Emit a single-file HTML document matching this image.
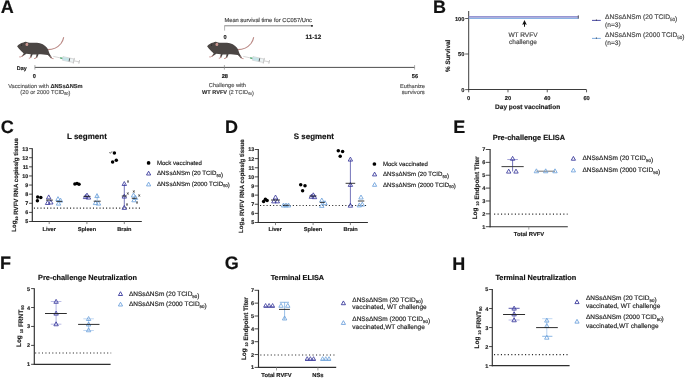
<!DOCTYPE html>
<html><head><meta charset="utf-8"><style>
html,body{margin:0;padding:0;background:#fff;width:685px;height:378px;overflow:hidden}
svg{display:block}
text{font-family:"Liberation Sans", sans-serif;stroke-width:0.16px;text-rendering:geometricPrecision}
</style></head><body>
<svg style="will-change:transform" width="685" height="378" viewBox="0 0 685 378" font-family='"Liberation Sans", sans-serif'>
<rect width="685" height="378" fill="#fff"/>
<text x="0.87" y="12.60" font-size="18" font-weight="bold" text-anchor="start" fill="#111" stroke="#111" stroke-width="0.07">A</text>
<g transform="translate(0.00,0.00)">
<path d="M47.6,49.6 C53,49.6 58,47.2 61,43.5 C62.4,41.6 63.2,39.6 63.6,37.6" fill="none" stroke="#bb8a86" stroke-width="1.15" stroke-linecap="round"/>
<path d="M17.1,46.3 C18.5,44.5 20.5,43 23.5,42.4 C24.5,41.6 26.5,41.5 28,42.4 C30,43.2 33,42.6 37,42.7 C41,42.9 45,45 47,47.8 C48.5,50 48.8,52 49.5,53.5 C50.3,55 51.2,56.5 52.2,57.9 L50.8,58.2 C49.8,56.8 48.8,55.6 47.8,54.9 C45,54.6 41.5,54.3 38.6,54.3 L37,58.1 L35.6,58.1 L36.6,54.4 C35,54.4 33.6,54.4 32.6,54.5 L31.2,57.8 L29.9,57.8 L30.8,54.3 C29.2,54.1 27.6,53.9 26.4,53.8 C25.2,54.6 23.9,55.6 22.6,56.5 L21.7,56 C22.7,55 23.4,54 23.6,53.2 C21.4,51.5 18.9,49 17.1,46.3 Z" fill="#4b4644"/>
<path d="M23.2,55.6 L20.6,56.9 L19.6,56.9 M30.9,56.6 L30.2,58.1 L29.2,58.2 M36.8,56.8 L35.6,58.5 L34.4,58.5 M50.4,56.6 L51.8,58.5 L53.2,58.6" fill="none" stroke="#c4908c" stroke-width="0.9" stroke-linecap="round" stroke-linejoin="round"/>
<ellipse cx="26.9" cy="44.4" rx="1.4" ry="1.7" fill="#c9968f"/>
<circle cx="21.6" cy="45.1" r="0.55" fill="#1a1a1a"/>
</g>
<g transform="translate(53.30,56.40) rotate(12)">
<line x1="0" y1="0" x2="7.2" y2="0" stroke="#aaa" stroke-width="0.45"/>
<rect x="7" y="-0.55" width="2.6" height="1.1" fill="#3aa060"/>
<rect x="9.5" y="-1.8" width="11.5" height="3.6" fill="#eef4f5" stroke="#b0b0b0" stroke-width="0.4"/>
<rect x="9.8" y="-1.5" width="6.2" height="3" fill="#c6e4e8"/>
<rect x="16" y="-1.6" width="0.9" height="3.2" fill="#555"/>
<line x1="21" y1="-2.9" x2="21" y2="2.9" stroke="#c0c0c0" stroke-width="0.8"/>
<rect x="21" y="-0.6" width="5.5" height="1.2" fill="#d6d6d6"/>
<line x1="26.5" y1="-1.9" x2="26.5" y2="1.9" stroke="#bdbdbd" stroke-width="0.8"/>
</g>
<g transform="translate(190.00,0.00)">
<path d="M47.6,49.6 C53,49.6 58,47.2 61,43.5 C62.4,41.6 63.2,39.6 63.6,37.6" fill="none" stroke="#bb8a86" stroke-width="1.15" stroke-linecap="round"/>
<path d="M17.1,46.3 C18.5,44.5 20.5,43 23.5,42.4 C24.5,41.6 26.5,41.5 28,42.4 C30,43.2 33,42.6 37,42.7 C41,42.9 45,45 47,47.8 C48.5,50 48.8,52 49.5,53.5 C50.3,55 51.2,56.5 52.2,57.9 L50.8,58.2 C49.8,56.8 48.8,55.6 47.8,54.9 C45,54.6 41.5,54.3 38.6,54.3 L37,58.1 L35.6,58.1 L36.6,54.4 C35,54.4 33.6,54.4 32.6,54.5 L31.2,57.8 L29.9,57.8 L30.8,54.3 C29.2,54.1 27.6,53.9 26.4,53.8 C25.2,54.6 23.9,55.6 22.6,56.5 L21.7,56 C22.7,55 23.4,54 23.6,53.2 C21.4,51.5 18.9,49 17.1,46.3 Z" fill="#4b4644"/>
<path d="M23.2,55.6 L20.6,56.9 L19.6,56.9 M30.9,56.6 L30.2,58.1 L29.2,58.2 M36.8,56.8 L35.6,58.5 L34.4,58.5 M50.4,56.6 L51.8,58.5 L53.2,58.6" fill="none" stroke="#c4908c" stroke-width="0.9" stroke-linecap="round" stroke-linejoin="round"/>
<ellipse cx="26.9" cy="44.4" rx="1.4" ry="1.7" fill="#c9968f"/>
<circle cx="21.6" cy="45.1" r="0.55" fill="#1a1a1a"/>
</g>
<g transform="translate(243.30,56.40) rotate(12)">
<line x1="0" y1="0" x2="7.2" y2="0" stroke="#aaa" stroke-width="0.45"/>
<rect x="7" y="-0.55" width="2.6" height="1.1" fill="#3aa060"/>
<rect x="9.5" y="-1.8" width="11.5" height="3.6" fill="#eef4f5" stroke="#b0b0b0" stroke-width="0.4"/>
<rect x="9.8" y="-1.5" width="6.2" height="3" fill="#c6e4e8"/>
<rect x="16" y="-1.6" width="0.9" height="3.2" fill="#555"/>
<line x1="21" y1="-2.9" x2="21" y2="2.9" stroke="#c0c0c0" stroke-width="0.8"/>
<rect x="21" y="-0.6" width="5.5" height="1.2" fill="#d6d6d6"/>
<line x1="26.5" y1="-1.9" x2="26.5" y2="1.9" stroke="#bdbdbd" stroke-width="0.8"/>
</g>
<text x="16.80" y="69.70" font-size="5.4" font-weight="bold" text-anchor="start" fill="#222" stroke="#222" stroke-width="0.07">Day</text>
<line x1="34.90" y1="67.40" x2="414.60" y2="67.40" stroke="#3a3a3a" stroke-width="0.9"/>
<line x1="34.90" y1="65.10" x2="34.90" y2="69.60" stroke="#888" stroke-width="0.7"/>
<line x1="224.40" y1="65.10" x2="224.40" y2="69.60" stroke="#888" stroke-width="0.7"/>
<line x1="414.60" y1="65.10" x2="414.60" y2="69.60" stroke="#888" stroke-width="0.7"/>
<text x="34.40" y="77.90" font-size="5.6" font-weight="bold" text-anchor="middle" fill="#222" stroke="#222" stroke-width="0.07">0</text>
<text x="224.80" y="77.90" font-size="5.7" font-weight="bold" text-anchor="middle" fill="#222" stroke="#222" stroke-width="0.07">28</text>
<text x="414.90" y="78.00" font-size="5.7" font-weight="bold" text-anchor="middle" fill="#222" stroke="#222" stroke-width="0.07">56</text>
<text x="45.4" y="87.5" font-size="5.7" text-anchor="middle" fill="#555" stroke="#555" stroke-width="0.16">Vaccination with <tspan font-weight="bold" fill="#222">ΔNSsΔNSm</tspan></text>
<text x="45.4" y="93.7" font-size="5.7" text-anchor="middle" fill="#555" stroke="#555" stroke-width="0.16">(20 or 2000 TCID<tspan font-size="3.88" dy="1.71">50</tspan><tspan dy="-1.71"></tspan>)</text>
<text x="227.4" y="87.4" font-size="5.67" text-anchor="middle" fill="#555" stroke="#555" stroke-width="0.16">Challenge with</text>
<text x="228" y="93.7" font-size="5.6" text-anchor="middle" fill="#555" stroke="#555" stroke-width="0.16"><tspan font-weight="bold" fill="#222">WT RVFV</tspan> (2 TCID<tspan font-size="3.54" dy="1.56">50</tspan><tspan dy="-1.56"></tspan>)</text>
<text x="412.5" y="87.6" font-size="5.6" text-anchor="middle" fill="#555" stroke="#555" stroke-width="0.16">Euthanize</text>
<text x="413.2" y="93.6" font-size="5.75" text-anchor="middle" fill="#555" stroke="#555" stroke-width="0.16">survivors</text>
<text x="224.4" y="22" font-size="5.76" fill="#444" stroke="#444" stroke-width="0.16">Mean survival time for CC057/Unc</text>
<line x1="224.60" y1="25.80" x2="311.50" y2="25.80" stroke="#777" stroke-width="0.9"/>
<line x1="224.60" y1="25.40" x2="224.60" y2="30.60" stroke="#999" stroke-width="0.75"/>
<rect x="311.1" y="25" width="1.7" height="1.7" fill="#222"/>
<text x="225.10" y="38.60" font-size="5.6" font-weight="bold" text-anchor="middle" fill="#222" stroke="#222" stroke-width="0.07">0</text>
<text x="313.40" y="38.90" font-size="6.3" font-weight="bold" text-anchor="middle" fill="#222" stroke="#222" stroke-width="0.07">11-12</text>
<text x="432.90" y="12.60" font-size="18" font-weight="bold" text-anchor="start" fill="#111" stroke="#111" stroke-width="0.07">B</text>
<line x1="468.70" y1="11.00" x2="468.70" y2="90.00" stroke="#333" stroke-width="0.95"/>
<line x1="468.20" y1="89.50" x2="586.40" y2="89.50" stroke="#333" stroke-width="0.95"/>
<line x1="465.20" y1="18.50" x2="468.70" y2="18.50" stroke="#333" stroke-width="0.8"/>
<text x="464.40" y="20.55" font-size="5.7" font-weight="bold" text-anchor="end" fill="#222" stroke="#222" stroke-width="0.07">100</text>
<line x1="465.20" y1="54.00" x2="468.70" y2="54.00" stroke="#333" stroke-width="0.8"/>
<text x="464.40" y="56.05" font-size="5.7" font-weight="bold" text-anchor="end" fill="#222" stroke="#222" stroke-width="0.07">50</text>
<line x1="465.20" y1="89.60" x2="468.70" y2="89.60" stroke="#333" stroke-width="0.8"/>
<text x="464.40" y="91.65" font-size="5.7" font-weight="bold" text-anchor="end" fill="#222" stroke="#222" stroke-width="0.07">0</text>
<line x1="468.70" y1="89.50" x2="468.70" y2="92.30" stroke="#333" stroke-width="0.8"/>
<text x="468.70" y="99.60" font-size="5.7" font-weight="bold" text-anchor="middle" fill="#222" stroke="#222" stroke-width="0.07">0</text>
<line x1="507.98" y1="89.50" x2="507.98" y2="92.30" stroke="#333" stroke-width="0.8"/>
<text x="507.98" y="99.60" font-size="5.7" font-weight="bold" text-anchor="middle" fill="#222" stroke="#222" stroke-width="0.07">20</text>
<line x1="547.26" y1="89.50" x2="547.26" y2="92.30" stroke="#333" stroke-width="0.8"/>
<text x="547.26" y="99.60" font-size="5.7" font-weight="bold" text-anchor="middle" fill="#222" stroke="#222" stroke-width="0.07">40</text>
<line x1="586.54" y1="89.50" x2="586.54" y2="92.30" stroke="#333" stroke-width="0.8"/>
<text x="586.54" y="99.60" font-size="5.7" font-weight="bold" text-anchor="middle" fill="#222" stroke="#222" stroke-width="0.07">60</text>
<text x="527.60" y="109.10" font-size="6.5" font-weight="bold" text-anchor="middle" fill="#222" stroke="#222" stroke-width="0.07">Day post vaccination</text>
<text x="0" y="0" font-size="6.4" font-weight="bold" text-anchor="middle" fill="#222" stroke="#222" stroke-width="0.07" transform="translate(450.40,55.90) rotate(-90)">% Survival</text>
<line x1="468.70" y1="16.90" x2="578.60" y2="16.90" stroke="#9696d2" stroke-width="1.6"/>
<line x1="468.70" y1="18.50" x2="578.60" y2="18.50" stroke="#8bb2e4" stroke-width="1.2"/>
<line x1="578.30" y1="15.30" x2="578.30" y2="18.60" stroke="#333" stroke-width="0.75"/>
<path d="M524.5,20.1 L526.8,24.8 L525,24.3 L525,26.7 L524,26.7 L524,24.3 L522.2,24.8 Z" fill="#111"/>
<text x="523.00" y="37.30" font-size="6.55" text-anchor="middle" fill="#444" stroke="#444" stroke-width="0.16">WT RVFV</text>
<text x="523.00" y="43.70" font-size="6.5" text-anchor="middle" fill="#444" stroke="#444" stroke-width="0.16">challenge</text>
<line x1="592.00" y1="20.40" x2="600.80" y2="20.40" stroke="#3a3a9c" stroke-width="0.9"/>
<line x1="596.40" y1="19.30" x2="596.40" y2="20.90" stroke="#222" stroke-width="0.6"/>
<line x1="592.00" y1="38.40" x2="600.80" y2="38.40" stroke="#6fa3dc" stroke-width="0.9"/>
<line x1="596.40" y1="37.30" x2="596.40" y2="38.90" stroke="#222" stroke-width="0.6"/>
<text x="605.1" y="19.3" font-size="6.65" fill="#444" stroke="#444" stroke-width="0.16">ΔNSsΔNSm (20 TCID<tspan font-size="4.52" dy="2.00">50</tspan><tspan dy="-2.00"></tspan>)</text>
<text x="605.10" y="27.40" font-size="6.6" text-anchor="start" fill="#444" stroke="#444" stroke-width="0.16">(n=3)</text>
<text x="605.1" y="37" font-size="6.65" fill="#444" stroke="#444" stroke-width="0.16">ΔNSsΔNSm (2000 TCID<tspan font-size="4.52" dy="2.00">50</tspan><tspan dy="-2.00"></tspan>)</text>
<text x="605.10" y="44.90" font-size="6.6" text-anchor="start" fill="#444" stroke="#444" stroke-width="0.16">(n=3)</text>
<text x="0.76" y="132.50" font-size="18" font-weight="bold" text-anchor="start" fill="#111" stroke="#111" stroke-width="0.07">C</text>
<text x="86.90" y="139.00" font-size="8" font-weight="bold" text-anchor="middle" fill="#111" stroke="#111" stroke-width="0.07">L segment</text>
<line x1="32.30" y1="148.20" x2="32.30" y2="222.05" stroke="#2e2e2e" stroke-width="1.15"/>
<line x1="31.75" y1="221.50" x2="141.80" y2="221.50" stroke="#2e2e2e" stroke-width="1.15"/>
<line x1="29.10" y1="221.50" x2="32.30" y2="221.50" stroke="#333" stroke-width="0.9"/>
<text x="28.35" y="223.44" font-size="5.4" font-weight="bold" text-anchor="end" fill="#222" stroke="#222" stroke-width="0.07">5</text>
<line x1="29.10" y1="212.39" x2="32.30" y2="212.39" stroke="#333" stroke-width="0.9"/>
<text x="28.35" y="214.33" font-size="5.4" font-weight="bold" text-anchor="end" fill="#222" stroke="#222" stroke-width="0.07">6</text>
<line x1="29.10" y1="203.28" x2="32.30" y2="203.28" stroke="#333" stroke-width="0.9"/>
<text x="28.35" y="205.22" font-size="5.4" font-weight="bold" text-anchor="end" fill="#222" stroke="#222" stroke-width="0.07">7</text>
<line x1="29.10" y1="194.16" x2="32.30" y2="194.16" stroke="#333" stroke-width="0.9"/>
<text x="28.35" y="196.11" font-size="5.4" font-weight="bold" text-anchor="end" fill="#222" stroke="#222" stroke-width="0.07">8</text>
<line x1="29.10" y1="185.05" x2="32.30" y2="185.05" stroke="#333" stroke-width="0.9"/>
<text x="28.35" y="186.99" font-size="5.4" font-weight="bold" text-anchor="end" fill="#222" stroke="#222" stroke-width="0.07">9</text>
<line x1="29.10" y1="175.94" x2="32.30" y2="175.94" stroke="#333" stroke-width="0.9"/>
<text x="28.35" y="177.88" font-size="5.4" font-weight="bold" text-anchor="end" fill="#222" stroke="#222" stroke-width="0.07">10</text>
<line x1="29.10" y1="166.82" x2="32.30" y2="166.82" stroke="#333" stroke-width="0.9"/>
<text x="28.35" y="168.77" font-size="5.4" font-weight="bold" text-anchor="end" fill="#222" stroke="#222" stroke-width="0.07">11</text>
<line x1="29.10" y1="157.71" x2="32.30" y2="157.71" stroke="#333" stroke-width="0.9"/>
<text x="28.35" y="159.66" font-size="5.4" font-weight="bold" text-anchor="end" fill="#222" stroke="#222" stroke-width="0.07">12</text>
<line x1="29.10" y1="148.60" x2="32.30" y2="148.60" stroke="#333" stroke-width="0.9"/>
<text x="28.35" y="150.54" font-size="5.4" font-weight="bold" text-anchor="end" fill="#222" stroke="#222" stroke-width="0.07">13</text>
<line x1="49.20" y1="221.50" x2="49.20" y2="224.10" stroke="#666" stroke-width="0.8"/>
<line x1="86.90" y1="221.50" x2="86.90" y2="224.10" stroke="#666" stroke-width="0.8"/>
<line x1="124.30" y1="221.50" x2="124.30" y2="224.10" stroke="#666" stroke-width="0.8"/>
<text x="49.20" y="230.70" font-size="5.6" font-weight="bold" text-anchor="middle" fill="#222" stroke="#222" stroke-width="0.07">Liver</text>
<text x="86.90" y="230.70" font-size="5.6" font-weight="bold" text-anchor="middle" fill="#222" stroke="#222" stroke-width="0.07">Spleen</text>
<text x="124.40" y="230.70" font-size="5.6" font-weight="bold" text-anchor="middle" fill="#222" stroke="#222" stroke-width="0.07">Brain</text>
<line x1="33.90" y1="208.10" x2="141.00" y2="208.10" stroke="#2a2a2a" stroke-width="1.2" stroke-dasharray="1.1 2.18"/>
<text x="0" y="0" font-size="6.1" font-weight="bold" text-anchor="middle" fill="#1a1a1a" stroke="#1a1a1a" stroke-width="0.07" transform="translate(16.10,185.00) rotate(-90)">Log<tspan font-size="3.78" dy="1.52">10</tspan><tspan dy="-1.52"></tspan> RVFV RNA copies/g tissue</text>
<circle cx="37.70" cy="196.90" r="1.75" fill="#000"/>
<circle cx="40.80" cy="197.60" r="1.75" fill="#000"/>
<circle cx="37.40" cy="200.80" r="1.75" fill="#000"/>
<circle cx="74.90" cy="184.00" r="1.75" fill="#000"/>
<circle cx="77.00" cy="183.40" r="1.75" fill="#000"/>
<circle cx="79.00" cy="184.20" r="1.75" fill="#000"/>
<circle cx="114.40" cy="153.00" r="1.75" fill="#000"/>
<circle cx="112.60" cy="162.00" r="1.75" fill="#000"/>
<circle cx="116.30" cy="160.20" r="1.75" fill="#000"/>
<path d="M109.4,152.4 l0.9,0.9 l1.7,-1.9" fill="none" stroke="#111" stroke-width="0.7"/>
<path d="M48.70,194.92 L50.90,198.88 L46.50,198.88Z" fill="none" stroke="#3a3a9c" stroke-width="0.85"/>
<path d="M47.60,200.52 L49.80,204.48 L45.40,204.48Z" fill="none" stroke="#3a3a9c" stroke-width="0.85"/>
<path d="M50.80,200.02 L53.00,203.98 L48.60,203.98Z" fill="none" stroke="#3a3a9c" stroke-width="0.85"/>
<path d="M85.50,194.62 L87.70,198.58 L83.30,198.58Z" fill="none" stroke="#3a3a9c" stroke-width="0.85"/>
<path d="M87.00,193.12 L89.20,197.08 L84.80,197.08Z" fill="none" stroke="#3a3a9c" stroke-width="0.85"/>
<path d="M88.50,195.12 L90.70,199.08 L86.30,199.08Z" fill="none" stroke="#3a3a9c" stroke-width="0.85"/>
<line x1="46.00" y1="200.10" x2="52.80" y2="200.10" stroke="#222" stroke-width="0.9"/>
<line x1="83.50" y1="196.40" x2="90.50" y2="196.40" stroke="#222" stroke-width="0.9"/>
<line x1="124.30" y1="183.90" x2="124.30" y2="207.80" stroke="#3a3a9c" stroke-width="0.7"/>
<path d="M124.30,181.52 L126.50,185.48 L122.10,185.48Z" fill="none" stroke="#3a3a9c" stroke-width="0.85"/>
<path d="M124.30,194.12 L126.50,198.08 L122.10,198.08Z" fill="none" stroke="#3a3a9c" stroke-width="0.85"/>
<path d="M124.30,205.42 L126.50,209.38 L122.10,209.38Z" fill="none" stroke="#3a3a9c" stroke-width="0.85"/>
<line x1="121.80" y1="196.00" x2="126.80" y2="196.00" stroke="#222" stroke-width="0.9"/>
<text x="128.10" y="183.30" font-size="4.3" text-anchor="middle" fill="#222" stroke="#222" stroke-width="0.16">×</text>
<text x="127.80" y="195.30" font-size="4.3" text-anchor="middle" fill="#222" stroke="#222" stroke-width="0.16">×</text>
<text x="127.00" y="206.20" font-size="4.3" text-anchor="middle" fill="#222" stroke="#222" stroke-width="0.16">×</text>
<text x="133.70" y="192.60" font-size="4.3" text-anchor="middle" fill="#222" stroke="#222" stroke-width="0.16">×</text>
<text x="139.30" y="197.30" font-size="4.3" text-anchor="middle" fill="#222" stroke="#222" stroke-width="0.16">×</text>
<text x="137.00" y="204.10" font-size="4.3" text-anchor="middle" fill="#222" stroke="#222" stroke-width="0.16">×</text>
<path d="M58.00,196.62 L60.20,200.58 L55.80,200.58Z" fill="none" stroke="#6fa3dc" stroke-width="0.85"/>
<path d="M60.50,198.12 L62.70,202.08 L58.30,202.08Z" fill="none" stroke="#6fa3dc" stroke-width="0.85"/>
<path d="M58.50,201.12 L60.70,205.08 L56.30,205.08Z" fill="none" stroke="#6fa3dc" stroke-width="0.85"/>
<path d="M97.00,193.62 L99.20,197.58 L94.80,197.58Z" fill="none" stroke="#6fa3dc" stroke-width="0.85"/>
<path d="M95.50,200.62 L97.70,204.58 L93.30,204.58Z" fill="none" stroke="#6fa3dc" stroke-width="0.85"/>
<path d="M98.50,201.12 L100.70,205.08 L96.30,205.08Z" fill="none" stroke="#6fa3dc" stroke-width="0.85"/>
<path d="M133.50,193.02 L135.70,196.98 L131.30,196.98Z" fill="none" stroke="#6fa3dc" stroke-width="0.85"/>
<path d="M135.50,195.42 L137.70,199.38 L133.30,199.38Z" fill="none" stroke="#6fa3dc" stroke-width="0.85"/>
<path d="M134.00,197.82 L136.20,201.78 L131.80,201.78Z" fill="none" stroke="#6fa3dc" stroke-width="0.85"/>
<line x1="56.20" y1="201.40" x2="62.20" y2="201.40" stroke="#222" stroke-width="0.9"/>
<line x1="93.70" y1="201.20" x2="100.70" y2="201.20" stroke="#222" stroke-width="0.9"/>
<line x1="97.20" y1="195.00" x2="97.20" y2="201.20" stroke="#6fa3dc" stroke-width="0.6"/>
<line x1="131.80" y1="198.30" x2="136.80" y2="198.30" stroke="#222" stroke-width="0.9"/>
<circle cx="148.60" cy="162.90" r="1.85" fill="#000"/>
<text x="156.90" y="164.70" font-size="6.05" text-anchor="start" fill="#222" stroke="#222" stroke-width="0.16">Mock vaccinated</text>
<path d="M148.60,171.23 L150.70,175.01 L146.50,175.01Z" fill="none" stroke="#3a3a9c" stroke-width="0.9"/>
<text x="156.9" y="174.9" font-size="6.1" fill="#222" stroke="#222" stroke-width="0.16">ΔNSsΔNSm (20 TCID<tspan font-size="4.15" dy="1.83">50</tspan><tspan dy="-1.83"></tspan>)</text>
<path d="M148.60,182.13 L150.70,185.91 L146.50,185.91Z" fill="none" stroke="#6fa3dc" stroke-width="0.9"/>
<text x="156.9" y="185.6" font-size="6.1" fill="#222" stroke="#222" stroke-width="0.16">ΔNSsΔNSm (2000 TCID<tspan font-size="4.15" dy="1.83">50</tspan><tspan dy="-1.83"></tspan>)</text>
<text x="225.00" y="132.50" font-size="18" font-weight="bold" text-anchor="start" fill="#111" stroke="#111" stroke-width="0.07">D</text>
<text x="313.90" y="139.40" font-size="7.95" font-weight="bold" text-anchor="middle" fill="#111" stroke="#111" stroke-width="0.07">S segment</text>
<line x1="258.30" y1="149.10" x2="258.30" y2="223.05" stroke="#2e2e2e" stroke-width="1.15"/>
<line x1="257.75" y1="222.50" x2="367.90" y2="222.50" stroke="#2e2e2e" stroke-width="1.15"/>
<line x1="254.80" y1="222.50" x2="258.30" y2="222.50" stroke="#333" stroke-width="0.9"/>
<text x="254.15" y="224.44" font-size="5.4" font-weight="bold" text-anchor="end" fill="#222" stroke="#222" stroke-width="0.07">5</text>
<line x1="254.80" y1="213.38" x2="258.30" y2="213.38" stroke="#333" stroke-width="0.9"/>
<text x="254.15" y="215.32" font-size="5.4" font-weight="bold" text-anchor="end" fill="#222" stroke="#222" stroke-width="0.07">6</text>
<line x1="254.80" y1="204.25" x2="258.30" y2="204.25" stroke="#333" stroke-width="0.9"/>
<text x="254.15" y="206.19" font-size="5.4" font-weight="bold" text-anchor="end" fill="#222" stroke="#222" stroke-width="0.07">7</text>
<line x1="254.80" y1="195.12" x2="258.30" y2="195.12" stroke="#333" stroke-width="0.9"/>
<text x="254.15" y="197.07" font-size="5.4" font-weight="bold" text-anchor="end" fill="#222" stroke="#222" stroke-width="0.07">8</text>
<line x1="254.80" y1="186.00" x2="258.30" y2="186.00" stroke="#333" stroke-width="0.9"/>
<text x="254.15" y="187.94" font-size="5.4" font-weight="bold" text-anchor="end" fill="#222" stroke="#222" stroke-width="0.07">9</text>
<line x1="254.80" y1="176.88" x2="258.30" y2="176.88" stroke="#333" stroke-width="0.9"/>
<text x="254.15" y="178.82" font-size="5.4" font-weight="bold" text-anchor="end" fill="#222" stroke="#222" stroke-width="0.07">10</text>
<line x1="254.80" y1="167.75" x2="258.30" y2="167.75" stroke="#333" stroke-width="0.9"/>
<text x="254.15" y="169.69" font-size="5.4" font-weight="bold" text-anchor="end" fill="#222" stroke="#222" stroke-width="0.07">11</text>
<line x1="254.80" y1="158.62" x2="258.30" y2="158.62" stroke="#333" stroke-width="0.9"/>
<text x="254.15" y="160.57" font-size="5.4" font-weight="bold" text-anchor="end" fill="#222" stroke="#222" stroke-width="0.07">12</text>
<line x1="254.80" y1="149.50" x2="258.30" y2="149.50" stroke="#333" stroke-width="0.9"/>
<text x="254.15" y="151.44" font-size="5.4" font-weight="bold" text-anchor="end" fill="#222" stroke="#222" stroke-width="0.07">13</text>
<line x1="275.50" y1="222.50" x2="275.50" y2="225.10" stroke="#666" stroke-width="0.8"/>
<line x1="313.10" y1="222.50" x2="313.10" y2="225.10" stroke="#666" stroke-width="0.8"/>
<line x1="350.40" y1="222.50" x2="350.40" y2="225.10" stroke="#666" stroke-width="0.8"/>
<text x="275.20" y="231.30" font-size="5.6" font-weight="bold" text-anchor="middle" fill="#222" stroke="#222" stroke-width="0.07">Liver</text>
<text x="313.00" y="231.30" font-size="5.6" font-weight="bold" text-anchor="middle" fill="#222" stroke="#222" stroke-width="0.07">Spleen</text>
<text x="350.60" y="231.30" font-size="5.6" font-weight="bold" text-anchor="middle" fill="#222" stroke="#222" stroke-width="0.07">Brain</text>
<line x1="260.00" y1="205.50" x2="367.60" y2="205.50" stroke="#2a2a2a" stroke-width="1.2" stroke-dasharray="1.1 2.18"/>
<text x="0" y="0" font-size="6.1" font-weight="bold" text-anchor="middle" fill="#1a1a1a" stroke="#1a1a1a" stroke-width="0.07" transform="translate(242.60,186.20) rotate(-90)">Log<tspan font-size="3.78" dy="1.52">10</tspan><tspan dy="-1.52"></tspan> RVFV RNA copies/g tissue</text>
<circle cx="263.60" cy="201.50" r="1.75" fill="#000"/>
<circle cx="265.40" cy="199.20" r="1.75" fill="#000"/>
<circle cx="267.10" cy="200.40" r="1.75" fill="#000"/>
<circle cx="300.70" cy="184.80" r="1.75" fill="#000"/>
<circle cx="305.00" cy="185.70" r="1.75" fill="#000"/>
<circle cx="302.60" cy="190.70" r="1.75" fill="#000"/>
<circle cx="338.30" cy="150.70" r="1.75" fill="#000"/>
<circle cx="342.60" cy="151.40" r="1.75" fill="#000"/>
<circle cx="340.20" cy="156.20" r="1.75" fill="#000"/>
<path d="M275.50,195.02 L277.70,198.98 L273.30,198.98Z" fill="none" stroke="#3a3a9c" stroke-width="0.85"/>
<path d="M273.90,198.92 L276.10,202.88 L271.70,202.88Z" fill="none" stroke="#3a3a9c" stroke-width="0.85"/>
<path d="M277.30,198.92 L279.50,202.88 L275.10,202.88Z" fill="none" stroke="#3a3a9c" stroke-width="0.85"/>
<path d="M311.40,194.32 L313.60,198.28 L309.20,198.28Z" fill="none" stroke="#3a3a9c" stroke-width="0.85"/>
<path d="M313.30,192.82 L315.50,196.78 L311.10,196.78Z" fill="none" stroke="#3a3a9c" stroke-width="0.85"/>
<path d="M314.50,194.72 L316.70,198.68 L312.30,198.68Z" fill="none" stroke="#3a3a9c" stroke-width="0.85"/>
<path d="M350.40,157.12 L352.60,161.08 L348.20,161.08Z" fill="none" stroke="#3a3a9c" stroke-width="0.85"/>
<path d="M350.40,182.42 L352.60,186.38 L348.20,186.38Z" fill="none" stroke="#3a3a9c" stroke-width="0.85"/>
<path d="M350.40,203.22 L352.60,207.18 L348.20,207.18Z" fill="none" stroke="#3a3a9c" stroke-width="0.85"/>
<line x1="271.00" y1="200.00" x2="280.00" y2="200.00" stroke="#222" stroke-width="0.9"/>
<line x1="309.50" y1="196.00" x2="316.50" y2="196.00" stroke="#222" stroke-width="0.9"/>
<line x1="350.40" y1="159.50" x2="350.40" y2="205.30" stroke="#3a3a9c" stroke-width="0.7"/>
<line x1="345.60" y1="183.30" x2="355.20" y2="183.30" stroke="#222" stroke-width="0.9"/>
<path d="M283.50,203.02 L285.70,206.98 L281.30,206.98Z" fill="none" stroke="#6fa3dc" stroke-width="0.85"/>
<path d="M286.00,203.02 L288.20,206.98 L283.80,206.98Z" fill="none" stroke="#6fa3dc" stroke-width="0.85"/>
<path d="M288.50,203.02 L290.70,206.98 L286.30,206.98Z" fill="none" stroke="#6fa3dc" stroke-width="0.85"/>
<path d="M321.80,198.02 L324.00,201.98 L319.60,201.98Z" fill="none" stroke="#6fa3dc" stroke-width="0.85"/>
<path d="M325.00,200.72 L327.20,204.68 L322.80,204.68Z" fill="none" stroke="#6fa3dc" stroke-width="0.85"/>
<path d="M321.80,203.42 L324.00,207.38 L319.60,207.38Z" fill="none" stroke="#6fa3dc" stroke-width="0.85"/>
<path d="M361.00,195.02 L363.20,198.98 L358.80,198.98Z" fill="none" stroke="#6fa3dc" stroke-width="0.85"/>
<path d="M359.30,202.92 L361.50,206.88 L357.10,206.88Z" fill="none" stroke="#6fa3dc" stroke-width="0.85"/>
<path d="M362.30,202.12 L364.50,206.08 L360.10,206.08Z" fill="none" stroke="#6fa3dc" stroke-width="0.85"/>
<line x1="283.00" y1="205.30" x2="289.00" y2="205.30" stroke="#222" stroke-width="0.9"/>
<line x1="319.80" y1="202.40" x2="324.80" y2="202.40" stroke="#222" stroke-width="0.9"/>
<line x1="357.90" y1="201.00" x2="364.30" y2="201.00" stroke="#222" stroke-width="0.9"/>
<circle cx="374.40" cy="164.00" r="1.85" fill="#000"/>
<text x="382.90" y="165.60" font-size="6.05" text-anchor="start" fill="#222" stroke="#222" stroke-width="0.16">Mock vaccinated</text>
<path d="M374.60,172.13 L376.70,175.91 L372.50,175.91Z" fill="none" stroke="#3a3a9c" stroke-width="0.9"/>
<text x="382.9" y="175.8" font-size="6.1" fill="#222" stroke="#222" stroke-width="0.16">ΔNSsΔNSm (20 TCID<tspan font-size="4.15" dy="1.83">50</tspan><tspan dy="-1.83"></tspan>)</text>
<path d="M374.60,182.53 L376.70,186.31 L372.50,186.31Z" fill="none" stroke="#6fa3dc" stroke-width="0.9"/>
<text x="382.9" y="186.5" font-size="6.1" fill="#222" stroke="#222" stroke-width="0.16">ΔNSsΔNSm (2000 TCID<tspan font-size="4.15" dy="1.83">50</tspan><tspan dy="-1.83"></tspan>)</text>
<text x="453.30" y="133.00" font-size="18" font-weight="bold" text-anchor="start" fill="#111" stroke="#111" stroke-width="0.07">E</text>
<text x="528.90" y="139.60" font-size="7.38" font-weight="bold" text-anchor="middle" fill="#111" stroke="#111" stroke-width="0.07">Pre-challenge ELISA</text>
<line x1="490.10" y1="149.10" x2="490.10" y2="227.25" stroke="#2e2e2e" stroke-width="1.15"/>
<line x1="489.55" y1="226.70" x2="567.80" y2="226.70" stroke="#2e2e2e" stroke-width="1.15"/>
<line x1="485.80" y1="226.70" x2="490.10" y2="226.70" stroke="#333" stroke-width="0.9"/>
<text x="485.25" y="228.68" font-size="5.5" font-weight="bold" text-anchor="end" fill="#222" stroke="#222" stroke-width="0.07">1</text>
<line x1="485.80" y1="213.83" x2="490.10" y2="213.83" stroke="#333" stroke-width="0.9"/>
<text x="485.25" y="215.81" font-size="5.5" font-weight="bold" text-anchor="end" fill="#222" stroke="#222" stroke-width="0.07">2</text>
<line x1="485.80" y1="200.97" x2="490.10" y2="200.97" stroke="#333" stroke-width="0.9"/>
<text x="485.25" y="202.95" font-size="5.5" font-weight="bold" text-anchor="end" fill="#222" stroke="#222" stroke-width="0.07">3</text>
<line x1="485.80" y1="188.10" x2="490.10" y2="188.10" stroke="#333" stroke-width="0.9"/>
<text x="485.25" y="190.08" font-size="5.5" font-weight="bold" text-anchor="end" fill="#222" stroke="#222" stroke-width="0.07">4</text>
<line x1="485.80" y1="175.23" x2="490.10" y2="175.23" stroke="#333" stroke-width="0.9"/>
<text x="485.25" y="177.21" font-size="5.5" font-weight="bold" text-anchor="end" fill="#222" stroke="#222" stroke-width="0.07">5</text>
<line x1="485.80" y1="162.37" x2="490.10" y2="162.37" stroke="#333" stroke-width="0.9"/>
<text x="485.25" y="164.35" font-size="5.5" font-weight="bold" text-anchor="end" fill="#222" stroke="#222" stroke-width="0.07">6</text>
<line x1="485.80" y1="149.50" x2="490.10" y2="149.50" stroke="#333" stroke-width="0.9"/>
<text x="485.25" y="151.48" font-size="5.5" font-weight="bold" text-anchor="end" fill="#222" stroke="#222" stroke-width="0.07">7</text>
<line x1="528.80" y1="226.70" x2="528.80" y2="229.60" stroke="#888" stroke-width="0.8"/>
<text x="529.00" y="236.30" font-size="5.8" font-weight="bold" text-anchor="middle" fill="#222" stroke="#222" stroke-width="0.07">Total RVFV</text>
<line x1="494.10" y1="214.10" x2="567.60" y2="214.10" stroke="#2a2a2a" stroke-width="1.2" stroke-dasharray="1.1 2.36"/>
<text x="0" y="0" font-size="6.4" font-weight="bold" text-anchor="middle" fill="#1a1a1a" stroke="#1a1a1a" stroke-width="0.07" transform="translate(477.10,187.85) rotate(-90)">Log <tspan font-size="3.97" dy="1.60">10</tspan><tspan dy="-1.60"></tspan> Endpoint Titer</text>
<line x1="512.60" y1="159.30" x2="512.60" y2="171.50" stroke="#3a3a9c" stroke-width="0.7"/>
<line x1="507.30" y1="159.50" x2="517.90" y2="159.50" stroke="#7c7cc8" stroke-width="0.7"/>
<path d="M508.70,169.12 L510.90,173.08 L506.50,173.08Z" fill="none" stroke="#3a3a9c" stroke-width="0.85"/>
<path d="M516.00,169.12 L518.20,173.08 L513.80,173.08Z" fill="none" stroke="#3a3a9c" stroke-width="0.85"/>
<path d="M512.60,156.32 L514.80,160.28 L510.40,160.28Z" fill="none" stroke="#3a3a9c" stroke-width="0.85"/>
<line x1="501.50" y1="166.60" x2="523.70" y2="166.60" stroke="#444" stroke-width="1.05"/>
<line x1="536.40" y1="171.20" x2="555.00" y2="171.20" stroke="#666" stroke-width="0.9"/>
<path d="M536.40,168.82 L538.60,172.78 L534.20,172.78Z" fill="none" stroke="#6fa3dc" stroke-width="0.85"/>
<path d="M545.70,168.82 L547.90,172.78 L543.50,172.78Z" fill="none" stroke="#6fa3dc" stroke-width="0.85"/>
<path d="M555.00,168.82 L557.20,172.78 L552.80,172.78Z" fill="none" stroke="#6fa3dc" stroke-width="0.85"/>
<path d="M573.40,156.43 L575.50,160.21 L571.30,160.21Z" fill="none" stroke="#3a3a9c" stroke-width="0.9"/>
<text x="582.5" y="160.4" font-size="6.5" fill="#222" stroke="#222" stroke-width="0.16">ΔNSsΔNSm (20 TCID<tspan font-size="4.42" dy="1.95">50</tspan><tspan dy="-1.95"></tspan>)</text>
<path d="M573.40,168.13 L575.50,171.91 L571.30,171.91Z" fill="none" stroke="#6fa3dc" stroke-width="0.9"/>
<text x="582.5" y="172.2" font-size="6.5" fill="#222" stroke="#222" stroke-width="0.16">ΔNSsΔNSm (2000 TCID<tspan font-size="4.42" dy="1.95">50</tspan><tspan dy="-1.95"></tspan>)</text>
<text x="0.10" y="269.40" font-size="18" font-weight="bold" text-anchor="start" fill="#111" stroke="#111" stroke-width="0.07">F</text>
<text x="87.50" y="279.60" font-size="7.35" font-weight="bold" text-anchor="middle" fill="#111" stroke="#111" stroke-width="0.07">Pre-challenge Neutralization</text>
<line x1="34.30" y1="288.20" x2="34.30" y2="364.85" stroke="#2e2e2e" stroke-width="1.15"/>
<line x1="33.75" y1="364.30" x2="110.60" y2="364.30" stroke="#2e2e2e" stroke-width="1.15"/>
<line x1="31.10" y1="364.30" x2="34.30" y2="364.30" stroke="#333" stroke-width="0.9"/>
<text x="30.05" y="366.28" font-size="5.5" font-weight="bold" text-anchor="end" fill="#222" stroke="#222" stroke-width="0.07">1</text>
<line x1="31.10" y1="345.38" x2="34.30" y2="345.38" stroke="#333" stroke-width="0.9"/>
<text x="30.05" y="347.36" font-size="5.5" font-weight="bold" text-anchor="end" fill="#222" stroke="#222" stroke-width="0.07">2</text>
<line x1="31.10" y1="326.45" x2="34.30" y2="326.45" stroke="#333" stroke-width="0.9"/>
<text x="30.05" y="328.43" font-size="5.5" font-weight="bold" text-anchor="end" fill="#222" stroke="#222" stroke-width="0.07">3</text>
<line x1="31.10" y1="307.53" x2="34.30" y2="307.53" stroke="#333" stroke-width="0.9"/>
<text x="30.05" y="309.51" font-size="5.5" font-weight="bold" text-anchor="end" fill="#222" stroke="#222" stroke-width="0.07">4</text>
<line x1="31.10" y1="288.60" x2="34.30" y2="288.60" stroke="#333" stroke-width="0.9"/>
<text x="30.05" y="290.58" font-size="5.5" font-weight="bold" text-anchor="end" fill="#222" stroke="#222" stroke-width="0.07">5</text>
<line x1="35.10" y1="353.00" x2="111.20" y2="353.00" stroke="#2a2a2a" stroke-width="1.2" stroke-dasharray="1.1 2.33"/>
<text x="0" y="0" font-size="6.5" font-weight="bold" text-anchor="middle" fill="#1a1a1a" stroke="#1a1a1a" stroke-width="0.07" transform="translate(20.90,326.20) rotate(-90)">Log <tspan font-size="4.03" dy="1.62">10</tspan><tspan dy="-1.62"></tspan> FRNT<tspan font-size="4.03" dy="1.62">50</tspan><tspan dy="-1.62"></tspan></text>
<line x1="56.10" y1="301.50" x2="56.10" y2="324.20" stroke="#a9abe0" stroke-width="0.9"/>
<line x1="50.80" y1="301.50" x2="61.40" y2="301.50" stroke="#a9abe0" stroke-width="0.8"/>
<line x1="50.80" y1="324.20" x2="61.40" y2="324.20" stroke="#a9abe0" stroke-width="0.8"/>
<path d="M56.10,299.32 L58.30,303.28 L53.90,303.28Z" fill="none" stroke="#3a3a9c" stroke-width="0.85"/>
<path d="M56.10,311.12 L58.30,315.08 L53.90,315.08Z" fill="none" stroke="#3a3a9c" stroke-width="0.85"/>
<path d="M56.10,321.82 L58.30,325.78 L53.90,325.78Z" fill="none" stroke="#3a3a9c" stroke-width="0.85"/>
<line x1="45.00" y1="313.50" x2="66.80" y2="313.50" stroke="#222" stroke-width="0.95"/>
<line x1="88.60" y1="318.80" x2="88.60" y2="330.50" stroke="#b0cdef" stroke-width="0.9"/>
<line x1="83.30" y1="318.80" x2="93.90" y2="318.80" stroke="#b0cdef" stroke-width="0.8"/>
<line x1="83.30" y1="330.50" x2="93.90" y2="330.50" stroke="#b0cdef" stroke-width="0.8"/>
<path d="M88.60,316.52 L90.80,320.48 L86.40,320.48Z" fill="none" stroke="#6fa3dc" stroke-width="0.85"/>
<path d="M88.60,322.02 L90.80,325.98 L86.40,325.98Z" fill="none" stroke="#6fa3dc" stroke-width="0.85"/>
<path d="M88.60,327.82 L90.80,331.78 L86.40,331.78Z" fill="none" stroke="#6fa3dc" stroke-width="0.85"/>
<line x1="78.10" y1="324.40" x2="99.50" y2="324.40" stroke="#222" stroke-width="0.95"/>
<path d="M120.50,291.73 L122.60,295.51 L118.40,295.51Z" fill="none" stroke="#3a3a9c" stroke-width="0.9"/>
<text x="128.9" y="296" font-size="6.5" fill="#222" stroke="#222" stroke-width="0.16">ΔNSsΔNSm (20 TCID<tspan font-size="4.42" dy="1.95">50</tspan><tspan dy="-1.95"></tspan>)</text>
<path d="M120.50,302.23 L122.60,306.01 L118.40,306.01Z" fill="none" stroke="#6fa3dc" stroke-width="0.9"/>
<text x="128.9" y="306.2" font-size="6.5" fill="#222" stroke="#222" stroke-width="0.16">ΔNSsΔNSm (2000 TCID<tspan font-size="4.42" dy="1.95">50</tspan><tspan dy="-1.95"></tspan>)</text>
<text x="224.80" y="269.30" font-size="18" font-weight="bold" text-anchor="start" fill="#111" stroke="#111" stroke-width="0.07">G</text>
<text x="297.40" y="280.10" font-size="7.3" font-weight="bold" text-anchor="middle" fill="#111" stroke="#111" stroke-width="0.07">Terminal ELISA</text>
<line x1="258.50" y1="289.90" x2="258.50" y2="367.95" stroke="#2e2e2e" stroke-width="1.15"/>
<line x1="257.95" y1="367.40" x2="336.20" y2="367.40" stroke="#2e2e2e" stroke-width="1.15"/>
<line x1="254.60" y1="367.40" x2="258.50" y2="367.40" stroke="#333" stroke-width="0.9"/>
<text x="253.95" y="369.38" font-size="5.5" font-weight="bold" text-anchor="end" fill="#222" stroke="#222" stroke-width="0.07">1</text>
<line x1="254.60" y1="354.55" x2="258.50" y2="354.55" stroke="#333" stroke-width="0.9"/>
<text x="253.95" y="356.53" font-size="5.5" font-weight="bold" text-anchor="end" fill="#222" stroke="#222" stroke-width="0.07">2</text>
<line x1="254.60" y1="341.70" x2="258.50" y2="341.70" stroke="#333" stroke-width="0.9"/>
<text x="253.95" y="343.68" font-size="5.5" font-weight="bold" text-anchor="end" fill="#222" stroke="#222" stroke-width="0.07">3</text>
<line x1="254.60" y1="328.85" x2="258.50" y2="328.85" stroke="#333" stroke-width="0.9"/>
<text x="253.95" y="330.83" font-size="5.5" font-weight="bold" text-anchor="end" fill="#222" stroke="#222" stroke-width="0.07">4</text>
<line x1="254.60" y1="316.00" x2="258.50" y2="316.00" stroke="#333" stroke-width="0.9"/>
<text x="253.95" y="317.98" font-size="5.5" font-weight="bold" text-anchor="end" fill="#222" stroke="#222" stroke-width="0.07">5</text>
<line x1="254.60" y1="303.15" x2="258.50" y2="303.15" stroke="#333" stroke-width="0.9"/>
<text x="253.95" y="305.13" font-size="5.5" font-weight="bold" text-anchor="end" fill="#222" stroke="#222" stroke-width="0.07">6</text>
<line x1="254.60" y1="290.30" x2="258.50" y2="290.30" stroke="#333" stroke-width="0.9"/>
<text x="253.95" y="292.28" font-size="5.5" font-weight="bold" text-anchor="end" fill="#222" stroke="#222" stroke-width="0.07">7</text>
<line x1="276.50" y1="367.40" x2="276.50" y2="370.40" stroke="#888" stroke-width="0.8"/>
<line x1="317.90" y1="367.40" x2="317.90" y2="370.40" stroke="#888" stroke-width="0.8"/>
<text x="276.50" y="376.90" font-size="5.8" font-weight="bold" text-anchor="middle" fill="#222" stroke="#222" stroke-width="0.07">Total RVFV</text>
<text x="317.90" y="376.90" font-size="5.8" font-weight="bold" text-anchor="middle" fill="#222" stroke="#222" stroke-width="0.07">NSs</text>
<line x1="260.30" y1="355.00" x2="335.80" y2="355.00" stroke="#2a2a2a" stroke-width="1.2" stroke-dasharray="1.1 2.38"/>
<text x="0" y="0" font-size="6.4" font-weight="bold" text-anchor="middle" fill="#1a1a1a" stroke="#1a1a1a" stroke-width="0.07" transform="translate(246.20,328.65) rotate(-90)">Log <tspan font-size="3.97" dy="1.60">10</tspan><tspan dy="-1.60"></tspan> Endpoint Titer</text>
<line x1="263.60" y1="307.40" x2="274.80" y2="307.40" stroke="#3a3a9c" stroke-width="0.8"/>
<path d="M265.60,303.50 L267.45,306.83 L263.75,306.83Z" fill="none" stroke="#3a3a9c" stroke-width="0.8"/>
<path d="M269.10,303.50 L270.95,306.83 L267.25,306.83Z" fill="none" stroke="#3a3a9c" stroke-width="0.8"/>
<path d="M272.60,303.50 L274.45,306.83 L270.75,306.83Z" fill="none" stroke="#3a3a9c" stroke-width="0.8"/>
<line x1="284.60" y1="302.30" x2="284.60" y2="319.50" stroke="#6fa3dc" stroke-width="0.7"/>
<line x1="279.80" y1="302.30" x2="289.00" y2="302.30" stroke="#6fa3dc" stroke-width="0.8"/>
<path d="M281.00,303.32 L283.20,307.28 L278.80,307.28Z" fill="none" stroke="#6fa3dc" stroke-width="0.85"/>
<path d="M287.80,303.32 L290.00,307.28 L285.60,307.28Z" fill="none" stroke="#6fa3dc" stroke-width="0.85"/>
<path d="M284.60,316.02 L286.80,319.98 L282.40,319.98Z" fill="none" stroke="#6fa3dc" stroke-width="0.85"/>
<line x1="279.00" y1="309.40" x2="289.90" y2="309.40" stroke="#222" stroke-width="0.95"/>
<line x1="305.00" y1="360.50" x2="315.80" y2="360.50" stroke="#3a3a9c" stroke-width="0.8"/>
<path d="M307.20,356.70 L309.05,360.03 L305.35,360.03Z" fill="none" stroke="#3a3a9c" stroke-width="0.8"/>
<path d="M310.40,356.70 L312.25,360.03 L308.55,360.03Z" fill="none" stroke="#3a3a9c" stroke-width="0.8"/>
<path d="M313.60,356.70 L315.45,360.03 L311.75,360.03Z" fill="none" stroke="#3a3a9c" stroke-width="0.8"/>
<line x1="320.30" y1="360.50" x2="331.10" y2="360.50" stroke="#6fa3dc" stroke-width="0.8"/>
<path d="M322.60,356.70 L324.45,360.03 L320.75,360.03Z" fill="none" stroke="#6fa3dc" stroke-width="0.8"/>
<path d="M325.80,356.70 L327.65,360.03 L323.95,360.03Z" fill="none" stroke="#6fa3dc" stroke-width="0.8"/>
<path d="M329.00,356.70 L330.85,360.03 L327.15,360.03Z" fill="none" stroke="#6fa3dc" stroke-width="0.8"/>
<path d="M343.40,300.93 L345.50,304.71 L341.30,304.71Z" fill="none" stroke="#3a3a9c" stroke-width="0.9"/>
<text x="352.3" y="301.5" font-size="6.5" fill="#222" stroke="#222" stroke-width="0.16">ΔNSsΔNSm (20 TCID<tspan font-size="4.42" dy="1.95">50</tspan><tspan dy="-1.95"></tspan>)</text>
<text x="352.30" y="309.00" font-size="6.5" text-anchor="start" fill="#222" stroke="#222" stroke-width="0.16">vaccinated, WT challenge</text>
<path d="M343.40,320.63 L345.50,324.41 L341.30,324.41Z" fill="none" stroke="#6fa3dc" stroke-width="0.9"/>
<text x="352.3" y="321.1" font-size="6.5" fill="#222" stroke="#222" stroke-width="0.16">ΔNSsΔNSm (2000 TCID<tspan font-size="4.42" dy="1.95">50</tspan><tspan dy="-1.95"></tspan>)</text>
<text x="352.30" y="329.20" font-size="6.5" text-anchor="start" fill="#222" stroke="#222" stroke-width="0.16">vaccinated,WT challenge</text>
<text x="452.20" y="269.50" font-size="18" font-weight="bold" text-anchor="start" fill="#111" stroke="#111" stroke-width="0.07">H</text>
<text x="535.80" y="279.50" font-size="7.36" font-weight="bold" text-anchor="middle" fill="#111" stroke="#111" stroke-width="0.07">Terminal Neutralization</text>
<line x1="492.30" y1="289.10" x2="492.30" y2="366.15" stroke="#2e2e2e" stroke-width="1.15"/>
<line x1="491.75" y1="365.60" x2="569.60" y2="365.60" stroke="#2e2e2e" stroke-width="1.15"/>
<line x1="489.10" y1="365.60" x2="492.30" y2="365.60" stroke="#333" stroke-width="0.9"/>
<text x="488.35" y="367.58" font-size="5.5" font-weight="bold" text-anchor="end" fill="#222" stroke="#222" stroke-width="0.07">1</text>
<line x1="489.10" y1="346.58" x2="492.30" y2="346.58" stroke="#333" stroke-width="0.9"/>
<text x="488.35" y="348.56" font-size="5.5" font-weight="bold" text-anchor="end" fill="#222" stroke="#222" stroke-width="0.07">2</text>
<line x1="489.10" y1="327.55" x2="492.30" y2="327.55" stroke="#333" stroke-width="0.9"/>
<text x="488.35" y="329.53" font-size="5.5" font-weight="bold" text-anchor="end" fill="#222" stroke="#222" stroke-width="0.07">3</text>
<line x1="489.10" y1="308.52" x2="492.30" y2="308.52" stroke="#333" stroke-width="0.9"/>
<text x="488.35" y="310.50" font-size="5.5" font-weight="bold" text-anchor="end" fill="#222" stroke="#222" stroke-width="0.07">4</text>
<line x1="489.10" y1="289.50" x2="492.30" y2="289.50" stroke="#333" stroke-width="0.9"/>
<text x="488.35" y="291.48" font-size="5.5" font-weight="bold" text-anchor="end" fill="#222" stroke="#222" stroke-width="0.07">5</text>
<line x1="494.00" y1="354.70" x2="569.50" y2="354.70" stroke="#2a2a2a" stroke-width="1.2" stroke-dasharray="1.1 2.35"/>
<text x="0" y="0" font-size="6.5" font-weight="bold" text-anchor="middle" fill="#1a1a1a" stroke="#1a1a1a" stroke-width="0.07" transform="translate(479.20,327.50) rotate(-90)">Log <tspan font-size="4.03" dy="1.62">10</tspan><tspan dy="-1.62"></tspan> FRNT<tspan font-size="4.03" dy="1.62">50</tspan><tspan dy="-1.62"></tspan></text>
<line x1="514.10" y1="308.30" x2="514.10" y2="320.00" stroke="#a9abe0" stroke-width="0.9"/>
<line x1="508.60" y1="308.30" x2="519.60" y2="308.30" stroke="#3a3a9c" stroke-width="0.85"/>
<line x1="508.60" y1="320.00" x2="519.60" y2="320.00" stroke="#a9abe0" stroke-width="0.8"/>
<path d="M514.10,306.12 L516.30,310.08 L511.90,310.08Z" fill="none" stroke="#3a3a9c" stroke-width="0.85"/>
<path d="M514.10,311.92 L516.30,315.88 L511.90,315.88Z" fill="none" stroke="#3a3a9c" stroke-width="0.85"/>
<path d="M514.10,317.82 L516.30,321.78 L511.90,321.78Z" fill="none" stroke="#3a3a9c" stroke-width="0.85"/>
<line x1="503.05" y1="314.50" x2="525.05" y2="314.50" stroke="#222" stroke-width="0.95"/>
<line x1="546.80" y1="318.70" x2="546.80" y2="336.30" stroke="#b0cdef" stroke-width="0.9"/>
<line x1="542.20" y1="318.70" x2="552.40" y2="318.70" stroke="#b0cdef" stroke-width="0.8"/>
<line x1="542.20" y1="336.30" x2="552.40" y2="336.30" stroke="#6fa3dc" stroke-width="0.8"/>
<path d="M546.80,318.12 L549.00,322.08 L544.60,322.08Z" fill="none" stroke="#6fa3dc" stroke-width="0.85"/>
<path d="M546.80,323.62 L549.00,327.58 L544.60,327.58Z" fill="none" stroke="#6fa3dc" stroke-width="0.85"/>
<path d="M546.80,335.22 L549.00,339.18 L544.60,339.18Z" fill="none" stroke="#6fa3dc" stroke-width="0.85"/>
<line x1="536.10" y1="327.60" x2="557.80" y2="327.60" stroke="#222" stroke-width="0.95"/>
<path d="M577.00,299.83 L579.10,303.61 L574.90,303.61Z" fill="none" stroke="#3a3a9c" stroke-width="0.9"/>
<text x="586" y="300.3" font-size="6.5" fill="#222" stroke="#222" stroke-width="0.16">ΔNSsΔNSm (20 TCID<tspan font-size="4.42" dy="1.95">50</tspan><tspan dy="-1.95"></tspan>)</text>
<text x="586.00" y="308.20" font-size="6.5" text-anchor="start" fill="#222" stroke="#222" stroke-width="0.16">vaccinated, WT challenge</text>
<path d="M577.00,319.33 L579.10,323.11 L574.90,323.11Z" fill="none" stroke="#6fa3dc" stroke-width="0.9"/>
<text x="586" y="319.4" font-size="6.5" fill="#222" stroke="#222" stroke-width="0.16">ΔNSsΔNSm (2000 TCID<tspan font-size="4.42" dy="1.95">50</tspan><tspan dy="-1.95"></tspan>)</text>
<text x="586.00" y="327.50" font-size="6.5" text-anchor="start" fill="#222" stroke="#222" stroke-width="0.16">vaccinated,WT challenge</text>
</svg>
</body></html>
